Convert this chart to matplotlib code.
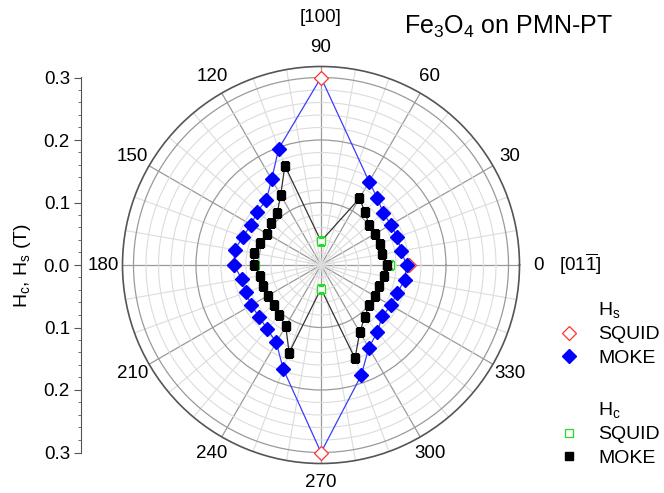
import numpy as np
import matplotlib
matplotlib.use("Agg")
import matplotlib.pyplot as plt
from matplotlib.lines import Line2D

plt.rcParams['font.family'] = ['Liberation Sans', 'DejaVu Sans']
plt.rcParams['mathtext.fontset'] = 'custom'
plt.rcParams['mathtext.rm'] = 'Liberation Sans'
plt.rcParams['mathtext.it'] = 'Liberation Sans'
plt.rcParams['mathtext.bf'] = 'Liberation Sans:bold'

# ---------------- data ----------------
# Hs from MOKE (deg, T)
hs_moke_angle = [0, 10, 20, 30, 40, 50, 60, 90, 110, 120, 130, 140, 150, 160, 170, 180,
                 190, 200, 210, 220, 230, 240, 250, 270, 290, 300, 310, 320, 330, 340, 350]
hs_moke_value = [0.137, 0.130, 0.130, 0.129, 0.130, 0.140, 0.154, 0.300, 0.198, 0.158, 0.136,
                 0.133, 0.129, 0.133, 0.140, 0.139, 0.129, 0.128, 0.129, 0.129, 0.134, 0.143,
                 0.177, 0.300, 0.188, 0.153, 0.140, 0.128, 0.129, 0.130, 0.136]
# Hc from MOKE (deg, T)
hc_moke_angle = [0, 10, 20, 30, 40, 50, 60, 90, 110, 120, 130, 140, 150, 160, 170, 180,
                 190, 200, 210, 220, 230, 240, 250, 270, 290, 300, 310, 320, 330, 340, 350]
hc_moke_value = [0.106, 0.099, 0.100, 0.099, 0.100, 0.110, 0.123, 0.038, 0.169, 0.129, 0.109,
                 0.105, 0.100, 0.104, 0.109, 0.108, 0.099, 0.099, 0.098, 0.099, 0.104, 0.113,
                 0.149, 0.038, 0.159, 0.124, 0.109, 0.100, 0.099, 0.099, 0.102]
# SQUID points
hs_squid_angle = [0, 90, 180, 270]
hs_squid_value = [0.140, 0.300, 0.139, 0.300]
hc_squid_angle = [0, 90, 180, 270]
hc_squid_value = [0.110, 0.038, 0.105, 0.038]
squid_only_angles = [90, 270]   # line passes through SQUID values there, no MOKE marker

theta_labels = ['0', '30', '60', '90', '120', '150', '180', '210', '240', '270', '300', '330']
left_tick_labels = ['0.3', '0.2', '0.1', '0.0', '0.1', '0.2', '0.3']

# ---------------- figure ----------------
W, H = 664, 493
fig = plt.figure(figsize=(W / 100, H / 100), dpi=100)

cx, cy = 321, 265          # centre in pixels (from top)
r_out = 198.5              # outer frame radius px
r03 = 187.5                # radius of 0.3 T in px
rmax = 0.3 * r_out / r03

ax = fig.add_axes([(cx - r_out) / W, (H - cy - r_out) / H, 2 * r_out / W, 2 * r_out / H],
                  projection='polar')
ax.set_ylim(0, rmax)
ax.set_yticks([0.1, 0.2, 0.3])
ax.set_yticks(np.arange(0.02, 0.3, 0.02), minor=True)
ax.set_yticklabels([])
ax.set_xticks(np.deg2rad(np.arange(0, 360, 30)))
ax.set_xticklabels(theta_labels, fontsize=13.5)
ax.set_xticks(np.deg2rad(np.arange(0, 360, 10)), minor=True)
ax.xaxis.grid(True, which='major', color='#9a9a9a', lw=0.9)
ax.xaxis.grid(True, which='minor', color='#dcdcdc', lw=0.8)
ax.yaxis.grid(True, which='major', color='#9a9a9a', lw=0.9)
ax.yaxis.grid(True, which='minor', color='#dcdcdc', lw=0.8)
ax.set_axisbelow(True)
ax.tick_params(axis='x', which='major', direction='in', length=6, width=0.9, color='#555555', pad=7)
ax.tick_params(axis='x', which='minor', direction='in', length=3.5, width=0.8, color='#555555')
ax.tick_params(axis='y', which='both', length=0)
ax.spines['polar'].set_color('#555555')
ax.spines['polar'].set_linewidth(1.2)

def closed(a, v):
    a = list(a) + [a[0]]
    v = list(v) + [v[0]]
    return np.deg2rad(a), np.array(v)

ta, tv = closed(hs_moke_angle, hs_moke_value)
ax.plot(ta, tv, color='#3b3bff', lw=0.9, zorder=3)
ca, cv = closed(hc_moke_angle, hc_moke_value)
ax.plot(ca, cv, color='#333333', lw=0.9, zorder=3)

hs_m = [(a, v) for a, v in zip(hs_moke_angle, hs_moke_value) if a not in squid_only_angles]
hc_m = [(a, v) for a, v in zip(hc_moke_angle, hc_moke_value) if a not in squid_only_angles]
ax.plot(np.deg2rad(hc_squid_angle), hc_squid_value, ls='none', marker='s', ms=5.5,
        mfc='white', mec='#22dd22', mew=0.9, zorder=4)
ax.plot(np.deg2rad([p[0] for p in hc_m]), [p[1] for p in hc_m], ls='none', marker='s',
        ms=5.8, color='black', zorder=5)
ax.plot(np.deg2rad(hs_squid_angle), hs_squid_value, ls='none', marker='D', ms=6.8,
        mfc='white', mec='#ff3030', mew=0.9, zorder=4)
ax.plot(np.deg2rad([p[0] for p in hs_m]), [p[1] for p in hs_m], ls='none', marker='D',
        ms=6.8, color='#0000ff', zorder=6)

# left linear axis
axl = fig.add_axes([81 / W, (H - cy - r03) / H, 0.001, 2 * r03 / H])
axl.set_ylim(-0.3, 0.3)
axl.set_yticks(np.arange(0.3, -0.31, -0.1))
axl.set_yticklabels(left_tick_labels, fontsize=13.5)
axl.set_yticks(np.arange(-0.3, 0.301, 0.02), minor=True)
axl.set_xticks([])
for s in ['top', 'right', 'bottom']:
    axl.spines[s].set_visible(False)
axl.spines['left'].set_color('#555555')
axl.patch.set_alpha(0)
axl.tick_params(axis='y', which='major', direction='out', length=5, color='#555555', pad=3)
axl.tick_params(axis='y', which='minor', direction='out', length=2.5, color='#555555')
axl.set_ylabel('H$_c$, H$_s$ (T)', fontsize=14, labelpad=8)

# extra texts
fig.text(cx / W, 1 - 18 / H, '[100]', ha='center', va='center', fontsize=13.5)
fig.text(580 / W, 1 - 264 / H, r'[01$\overline{1}$]', ha='center', va='center', fontsize=13.5)
fig.text(613 / W, 1 - 27 / H, 'Fe$_3$O$_4$ on PMN-PT', ha='right', va='center', fontsize=18)

# legends
h1 = [Line2D([], [], ls='none'),
      Line2D([], [], ls='none', marker='D', ms=6.8, mfc='white', mec='#ff3030', mew=0.9),
      Line2D([], [], ls='none', marker='D', ms=6.8, color='#0000ff')]
l1 = fig.legend(h1, ['H$_s$', 'SQUID', 'MOKE'], loc='upper left',
                bbox_to_anchor=(559 / W, 1 - 300 / H), frameon=False, fontsize=14,
                handlelength=1.0, handletextpad=1.0, labelspacing=0.3, borderpad=0,
                borderaxespad=0)
h2 = [Line2D([], [], ls='none'),
      Line2D([], [], ls='none', marker='s', ms=5.5, mfc='white', mec='#22dd22', mew=0.9),
      Line2D([], [], ls='none', marker='s', ms=5.8, color='black')]
l2 = fig.legend(h2, ['H$_c$', 'SQUID', 'MOKE'], loc='upper left',
                bbox_to_anchor=(559 / W, 1 - 400 / H), frameon=False, fontsize=14,
                handlelength=1.0, handletextpad=1.0, labelspacing=0.3, borderpad=0,
                borderaxespad=0)

fig.savefig('out.png', dpi=100)
